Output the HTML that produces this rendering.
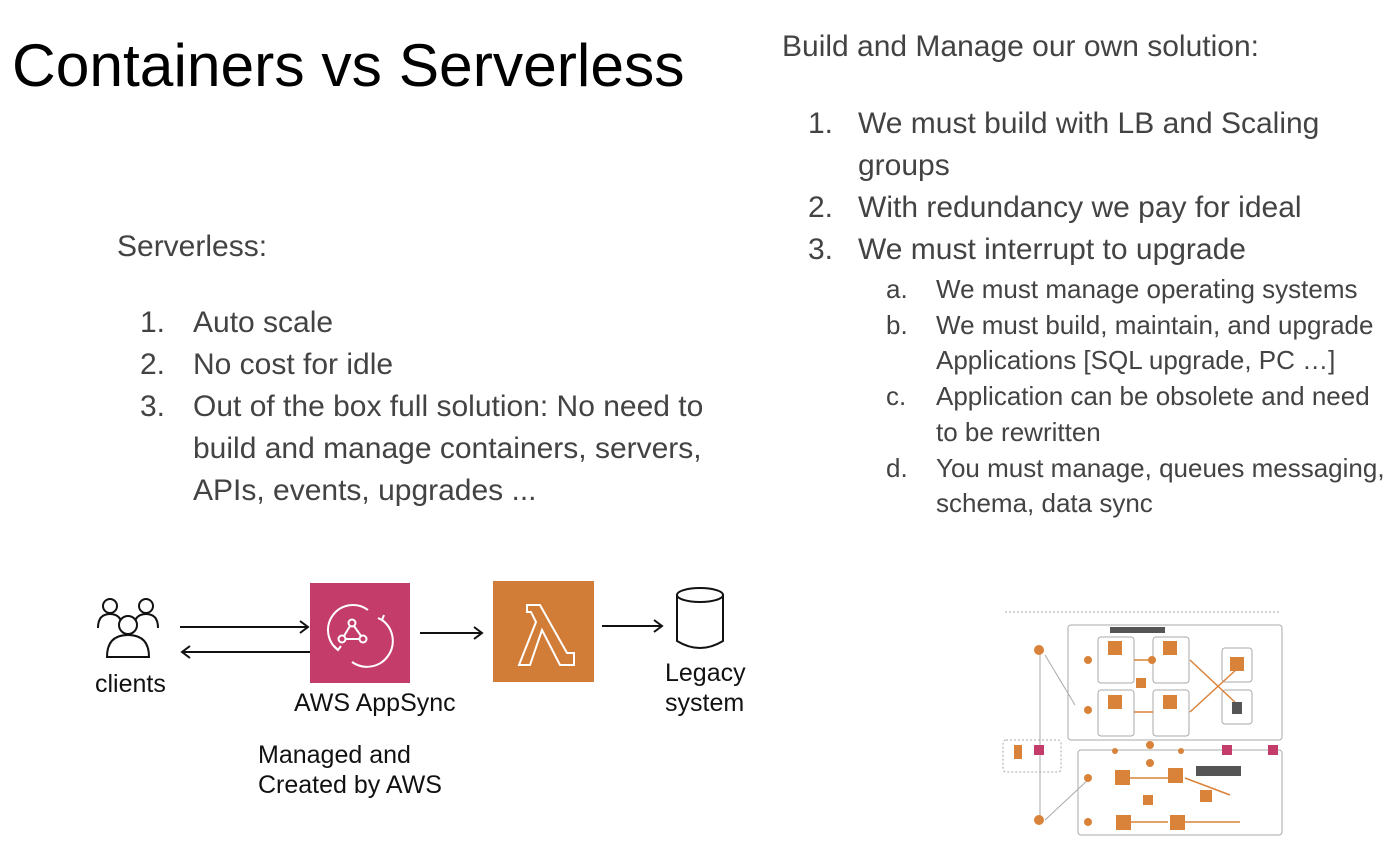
<!DOCTYPE html>
<html><head><meta charset="utf-8"><style>
body{margin:0;width:1400px;height:848px;background:#fff;position:relative;overflow:hidden;font-family:"Liberation Sans",sans-serif;color:#434343}
.t{position:absolute;white-space:nowrap}
.L{font-size:30px}.S{font-size:26px}.D{font-size:25px;color:#111}
</style></head><body>
<div class="t" style="left:12px;top:30px;font-size:60.5px;color:#000">Containers vs Serverless</div>
<div class="t" style="left:782px;top:30px;font-size:30px">Build and Manage our own solution:</div>

<div class="t L" style="left:808px;top:107px">1.</div>
<div class="t L" style="left:858px;top:107px">We must build with LB and Scaling</div>
<div class="t L" style="left:858px;top:149px">groups</div>
<div class="t L" style="left:808px;top:191px">2.</div>
<div class="t L" style="left:858px;top:191px">With redundancy we pay for ideal</div>
<div class="t L" style="left:808px;top:233px">3.</div>
<div class="t L" style="left:858px;top:233px">We must interrupt to upgrade</div>

<div class="t S" style="left:886px;top:274px">a.</div>
<div class="t S" style="left:936px;top:274px">We must manage operating systems</div>
<div class="t S" style="left:886px;top:310px">b.</div>
<div class="t S" style="left:936px;top:310px">We must build, maintain, and upgrade</div>
<div class="t S" style="left:936px;top:345px">Applications [SQL upgrade, PC …]</div>
<div class="t S" style="left:886px;top:381px">c.</div>
<div class="t S" style="left:936px;top:381px">Application can be obsolete and need</div>
<div class="t S" style="left:936px;top:417px">to be rewritten</div>
<div class="t S" style="left:886px;top:453px">d.</div>
<div class="t S" style="left:936px;top:453px">You must manage, queues messaging,</div>
<div class="t S" style="left:936px;top:488px">schema, data sync</div>

<div class="t" style="left:117px;top:230px;font-size:30px">Serverless:</div>
<div class="t L" style="left:140px;top:306px">1.</div>
<div class="t L" style="left:193px;top:306px">Auto scale</div>
<div class="t L" style="left:140px;top:348px">2.</div>
<div class="t L" style="left:193px;top:348px">No cost for idle</div>
<div class="t L" style="left:140px;top:390px">3.</div>
<div class="t L" style="left:193px;top:390px">Out of the box full solution: No need to</div>
<div class="t L" style="left:193px;top:432px">build and manage containers, servers,</div>
<div class="t L" style="left:193px;top:474px">APIs, events, upgrades ...</div>

<svg style="position:absolute;left:0;top:0" width="1400" height="848">
<g fill="none" stroke="#111" stroke-width="2">
 <circle cx="110" cy="606" r="7"/><path d="M98 628 q0-14 12-14 q12 0 12 14"/>
 <circle cx="146" cy="606" r="7"/><path d="M134 628 q0-14 12-14 q12 0 12 14"/>
 <circle cx="128" cy="625" r="9" fill="#fff"/><path d="M107 657 q0-22 21-22 q21 0 21 22 z" fill="#fff"/>
 <path d="M180 627 H308 M300 621 l8 6 l-8 6"/>
 <path d="M310 652 H182 M190 646 l-8 6 l8 6"/>
 <path d="M420 633 H482 M474 627 l8 6 l-8 6"/>
 <path d="M602 626 H662 M654 620 l8 6 l-8 6"/>
 <ellipse cx="700" cy="595" rx="23" ry="7"/><path d="M677 595 V641 q23 14 46 0 V595"/>
</g>
<rect x="310" y="583" width="100" height="100" fill="#c43c69"/>
<g fill="none" stroke="#fff" stroke-width="2">
 <path d="M338 650 a24 24 0 0 1 30-40"/><path d="M382 620 a24 24 0 0 1 -30 42"/>
 <path d="M378 618 l4 2 l2 -5"/><path d="M334 646 l4 4 l3 -4"/>
 <circle cx="352" cy="623" r="3.5"/><circle cx="342" cy="639" r="3.5"/><circle cx="363" cy="639" r="3.5"/>
 <path d="M350 626 L344 636 M354 626 L361 636 M346 639 H359"/>
</g>
<rect x="493" y="581" width="101" height="101" fill="#d27d37"/>
<path d="M527 605 H540 L567 653 H574 V665 H560 L542 630 L530 665 H519 L536 622 L531 612 H527 Z" fill="none" stroke="#fff" stroke-width="2"/>
<g stroke="#aaa" fill="none" stroke-width="1">
 <rect x="1068" y="625" width="214" height="115" rx="3"/>
 <rect x="1078" y="750" width="204" height="85" rx="3"/>
 <rect x="1003" y="740" width="58" height="32" rx="3" stroke-dasharray="2 2"/>
 <path d="M1005 612 H1280" stroke-dasharray="2 2"/>
 <rect x="1098" y="637" width="36" height="46" rx="3"/><rect x="1153" y="637" width="36" height="46" rx="3"/>
 <rect x="1098" y="690" width="36" height="46" rx="3"/><rect x="1153" y="690" width="36" height="46" rx="3"/>
 <rect x="1222" y="648" width="30" height="34" rx="3"/><rect x="1222" y="690" width="30" height="34" rx="3"/>
 <path d="M1040 650 V820 M1045 655 L1075 705 M1045 820 L1090 778"/>
</g>
<g stroke="#d9833a" stroke-width="1.5">
 <path d="M1134 660 H1153 M1134 712 H1153 M1190 660 L1238 705 M1190 712 L1238 668 M1130 778 H1168 M1130 822 H1168 M1185 822 H1240 M1185 778 L1230 795"/>
</g>
<g fill="#d9833a">
 <rect x="1108" y="641" width="14" height="14"/><rect x="1163" y="641" width="14" height="14"/>
 <rect x="1108" y="695" width="14" height="14"/><rect x="1163" y="695" width="14" height="14"/>
 <rect x="1230" y="657" width="14" height="14"/><rect x="1136" y="678" width="10" height="10"/>
 <rect x="1115" y="770" width="15" height="15"/><rect x="1168" y="768" width="15" height="15"/>
 <rect x="1116" y="815" width="15" height="15"/><rect x="1170" y="815" width="15" height="15"/>
 <rect x="1200" y="790" width="12" height="12"/><rect x="1143" y="795" width="10" height="10"/>
 <circle cx="1039" cy="650" r="5"/><circle cx="1039" cy="820" r="5"/><circle cx="1150" cy="745" r="4"/>
 <circle cx="1115" cy="751" r="3"/><circle cx="1150" cy="763" r="4"/><circle cx="1181" cy="751" r="3"/>
 <circle cx="1088" cy="660" r="4"/><circle cx="1088" cy="710" r="4"/><circle cx="1152" cy="660" r="4"/>
 <circle cx="1088" cy="778" r="4"/><circle cx="1088" cy="822" r="4"/>
 <rect x="1014" y="745" width="8" height="14"/><rect x="1222" y="745" width="10" height="10" fill="#c43c69"/>
 <rect x="1268" y="745" width="10" height="10" fill="#c43c69"/><rect x="1034" y="745" width="10" height="10" fill="#c43c69"/>
</g>
<rect x="1110" y="627" width="55" height="6" fill="#555"/>
<rect x="1196" y="766" width="45" height="10" fill="#555"/>
<rect x="1232" y="702" width="10" height="12" fill="#555"/>
</svg>

<div class="t D" style="left:95px;top:670px">clients</div>
<div class="t D" style="left:294px;top:689px">AWS AppSync</div>
<div class="t D" style="left:665px;top:659px">Legacy</div>
<div class="t D" style="left:665px;top:689px">system</div>
<div class="t D" style="left:258px;top:741px">Managed and</div>
<div class="t D" style="left:258px;top:771px">Created by AWS</div>
</body></html>
